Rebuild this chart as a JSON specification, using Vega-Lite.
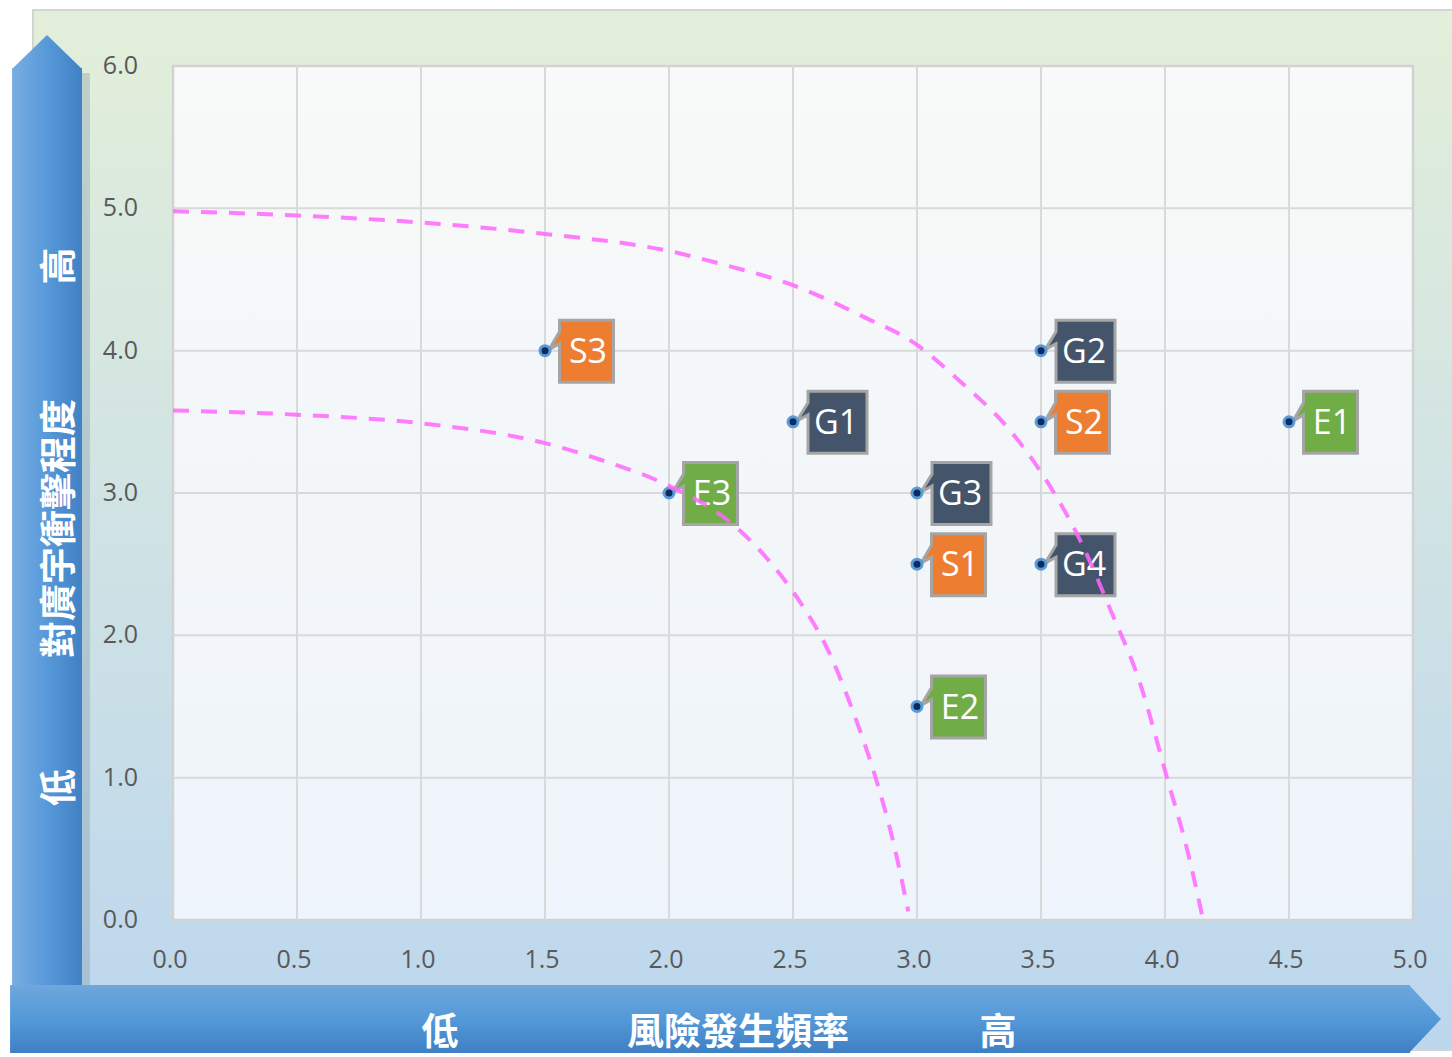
{
  "$schema": "https://vega.github.io/schema/vega-lite/v6.json",
  "width": 1240,
  "height": 854,
  "autosize": {"type": "none"},
  "padding": {"left": 173, "top": 66, "right": 39, "bottom": 137},
  "background": "white",
  "config": {
    "view": {"stroke": null},
    "axis": {"disable": true}
  },
  "data": {"values": [{}]},
  "datasets": {
    "pts": [
      {"id": "S3", "grp": "S", "x": 1.5, "y": 4.0},
      {"id": "G1", "grp": "G", "x": 2.5, "y": 3.5},
      {"id": "E3", "grp": "E", "x": 2.0, "y": 3.0},
      {"id": "G2", "grp": "G", "x": 3.5, "y": 4.0},
      {"id": "S2", "grp": "S", "x": 3.5, "y": 3.5},
      {"id": "E1", "grp": "E", "x": 4.5, "y": 3.5},
      {"id": "G3", "grp": "G", "x": 3.0, "y": 3.0},
      {"id": "S1", "grp": "S", "x": 3.0, "y": 2.5},
      {"id": "G4", "grp": "G", "x": 3.5, "y": 2.5},
      {"id": "E2", "grp": "E", "x": 3.0, "y": 1.5}
    ],
    "curves": [
      {"c": "A", "x": 0.0, "y": 4.98}, {"c": "A", "x": 0.5, "y": 4.95}, {"c": "A", "x": 1.0, "y": 4.9}, {"c": "A", "x": 1.5, "y": 4.82},
      {"c": "A", "x": 2.0, "y": 4.7}, {"c": "A", "x": 2.23, "y": 4.6}, {"c": "A", "x": 2.5, "y": 4.46}, {"c": "A", "x": 2.77, "y": 4.25},
      {"c": "A", "x": 3.0, "y": 4.04}, {"c": "A", "x": 3.17, "y": 3.79}, {"c": "A", "x": 3.375, "y": 3.44}, {"c": "A", "x": 3.51, "y": 3.12},
      {"c": "A", "x": 3.657, "y": 2.67}, {"c": "A", "x": 3.78, "y": 2.18}, {"c": "A", "x": 3.9, "y": 1.66}, {"c": "A", "x": 4.008, "y": 1.0},
      {"c": "A", "x": 4.09, "y": 0.49}, {"c": "A", "x": 4.15, "y": 0.03},
      {"c": "B", "x": 0.0, "y": 3.58}, {"c": "B", "x": 0.5, "y": 3.55}, {"c": "B", "x": 1.0, "y": 3.49}, {"c": "B", "x": 1.5, "y": 3.35},
      {"c": "B", "x": 1.73, "y": 3.23}, {"c": "B", "x": 2.0, "y": 3.05}, {"c": "B", "x": 2.25, "y": 2.79}, {"c": "B", "x": 2.41, "y": 2.51},
      {"c": "B", "x": 2.53, "y": 2.23}, {"c": "B", "x": 2.64, "y": 1.9}, {"c": "B", "x": 2.74, "y": 1.475}, {"c": "B", "x": 2.84, "y": 0.96},
      {"c": "B", "x": 2.9, "y": 0.58}, {"c": "B", "x": 2.965, "y": 0.06}
    ],
    "gridx": [{"v": 0.5}, {"v": 1.0}, {"v": 1.5}, {"v": 2.0}, {"v": 2.5}, {"v": 3.0}, {"v": 3.5}, {"v": 4.0}, {"v": 4.5}],
    "gridy": [{"v": 1.0}, {"v": 2.0}, {"v": 3.0}, {"v": 4.0}, {"v": 5.0}],
    "xticks": [{"v": 0}, {"v": 0.5}, {"v": 1.0}, {"v": 1.5}, {"v": 2.0}, {"v": 2.5}, {"v": 3.0}, {"v": 3.5}, {"v": 4.0}, {"v": 4.5}, {"v": 5.0}],
    "yticks": [{"v": 0}, {"v": 1.0}, {"v": 2.0}, {"v": 3.0}, {"v": 4.0}, {"v": 5.0}, {"v": 6.0}]
  },
  "layer": [
    {
      "mark": {"type": "rect", "stroke": "#d4d4d4", "strokeWidth": 2,
        "fill": {"gradient": "linear", "x1": 0, "y1": 0, "x2": 0, "y2": 1, "stops": [{"offset": 0, "color": "#e3efda"}, {"offset": 1, "color": "#bcd6ee"}]}},
      "encoding": {
        "x": {"datum": -0.5645, "type": "quantitative", "title": null, "scale": {"domain": [0, 5], "nice": false}},
        "x2": {"datum": 5.2},
        "y": {"datum": 6.394, "type": "quantitative", "title": null, "scale": {"domain": [0, 6], "nice": false}},
        "y2": {"datum": -0.913}
      }
    },
    {
      "mark": {"type": "rect", "fill": "#7f98a8", "opacity": 0.35},
      "encoding": {
        "x": {"datum": -0.367, "type": "quantitative", "title": null, "scale": {"domain": [0, 5], "nice": false}},
        "x2": {"datum": -0.335},
        "y": {"datum": 5.95, "type": "quantitative", "title": null, "scale": {"domain": [0, 6], "nice": false}},
        "y2": {"datum": -0.46}
      }
    },
    {
      "mark": {"type": "rect",
        "fill": {"gradient": "linear", "x1": 0, "y1": 0, "x2": 1, "y2": 0, "stops": [{"offset": 0, "color": "#7aaee0"}, {"offset": 0.45, "color": "#5a9bdb"}, {"offset": 1, "color": "#4080c4"}]}},
      "encoding": {
        "x": {"datum": -0.649, "type": "quantitative", "title": null, "scale": {"domain": [0, 5], "nice": false}},
        "x2": {"datum": -0.367},
        "y": {"datum": 5.986, "type": "quantitative", "title": null, "scale": {"domain": [0, 6], "nice": false}},
        "y2": {"datum": -0.5}
      }
    },
    {
      "mark": {"type": "point", "filled": true, "opacity": 1, "size": 4900, "shape": "M-1,0.03 L0,-0.94 L1,0.03 Z",
        "fill": {"gradient": "linear", "x1": 0, "y1": 0, "x2": 1, "y2": 0, "stops": [{"offset": 0, "color": "#7aaee0"}, {"offset": 0.45, "color": "#5a9bdb"}, {"offset": 1, "color": "#4080c4"}]}},
      "encoding": {
        "x": {"datum": -0.508, "type": "quantitative", "title": null, "scale": {"domain": [0, 5], "nice": false}},
        "y": {"datum": 5.986, "type": "quantitative", "title": null, "scale": {"domain": [0, 6], "nice": false}}
      }
    },
    {
      "mark": {"type": "rect",
        "fill": {"gradient": "linear", "x1": 0, "y1": 0, "x2": 0, "y2": 1, "stops": [{"offset": 0, "color": "#6ea7dc"}, {"offset": 0.5, "color": "#5499d8"}, {"offset": 1, "color": "#3f7fc4"}]}},
      "encoding": {
        "x": {"datum": -0.657, "type": "quantitative", "title": null, "scale": {"domain": [0, 5], "nice": false}},
        "x2": {"datum": 4.988},
        "y": {"datum": -0.457, "type": "quantitative", "title": null, "scale": {"domain": [0, 6], "nice": false}},
        "y2": {"datum": -0.934}
      }
    },
    {
      "mark": {"type": "point", "filled": true, "opacity": 1, "size": 4624, "shape": "M-0.03,-1 L0.91,0 L-0.03,1 Z",
        "fill": {"gradient": "linear", "x1": 0, "y1": 0, "x2": 0, "y2": 1, "stops": [{"offset": 0, "color": "#6ea7dc"}, {"offset": 0.5, "color": "#5499d8"}, {"offset": 1, "color": "#3f7fc4"}]}},
      "encoding": {
        "x": {"datum": 4.988, "type": "quantitative", "title": null, "scale": {"domain": [0, 5], "nice": false}},
        "y": {"datum": -0.696, "type": "quantitative", "title": null, "scale": {"domain": [0, 6], "nice": false}}
      }
    },
    {
      "mark": {"type": "text", "font": "Noto Sans CJK TC", "fontWeight": "bold", "fontSize": 37, "color": "white", "angle": 270, "align": "center", "baseline": "middle"},
      "encoding": {
        "x": {"datum": -0.45, "type": "quantitative", "title": null, "scale": {"domain": [0, 5], "nice": false}},
        "y": {"datum": 4.595, "type": "quantitative", "title": null, "scale": {"domain": [0, 6], "nice": false}},
        "text": {"value": "高"}
      }
    },
    {
      "mark": {"type": "text", "font": "Noto Sans CJK TC", "fontWeight": "bold", "fontSize": 37, "color": "white", "angle": 270, "align": "center", "baseline": "middle"},
      "encoding": {
        "x": {"datum": -0.45, "type": "quantitative", "title": null, "scale": {"domain": [0, 5], "nice": false}},
        "y": {"datum": 2.751, "type": "quantitative", "title": null, "scale": {"domain": [0, 6], "nice": false}},
        "text": {"value": "對廣宇衝擊程度"}
      }
    },
    {
      "mark": {"type": "text", "font": "Noto Sans CJK TC", "fontWeight": "bold", "fontSize": 37, "color": "white", "angle": 270, "align": "center", "baseline": "middle"},
      "encoding": {
        "x": {"datum": -0.45, "type": "quantitative", "title": null, "scale": {"domain": [0, 5], "nice": false}},
        "y": {"datum": 0.931, "type": "quantitative", "title": null, "scale": {"domain": [0, 6], "nice": false}},
        "text": {"value": "低"}
      }
    },
    {
      "mark": {"type": "text", "font": "Noto Sans CJK TC", "fontWeight": "bold", "fontSize": 37, "color": "white", "align": "center", "baseline": "middle"},
      "encoding": {
        "x": {"datum": 1.077, "type": "quantitative", "title": null, "scale": {"domain": [0, 5], "nice": false}},
        "y": {"datum": -0.801, "type": "quantitative", "title": null, "scale": {"domain": [0, 6], "nice": false}},
        "text": {"value": "低"}
      }
    },
    {
      "mark": {"type": "text", "font": "Noto Sans CJK TC", "fontWeight": "bold", "fontSize": 37, "color": "white", "align": "center", "baseline": "middle"},
      "encoding": {
        "x": {"datum": 2.278, "type": "quantitative", "title": null, "scale": {"domain": [0, 5], "nice": false}},
        "y": {"datum": -0.801, "type": "quantitative", "title": null, "scale": {"domain": [0, 6], "nice": false}},
        "text": {"value": "風險發生頻率"}
      }
    },
    {
      "mark": {"type": "text", "font": "Noto Sans CJK TC", "fontWeight": "bold", "fontSize": 37, "color": "white", "align": "center", "baseline": "middle"},
      "encoding": {
        "x": {"datum": 3.327, "type": "quantitative", "title": null, "scale": {"domain": [0, 5], "nice": false}},
        "y": {"datum": -0.801, "type": "quantitative", "title": null, "scale": {"domain": [0, 6], "nice": false}},
        "text": {"value": "高"}
      }
    },
    {
      "data": {"name": "xticks"},
      "mark": {"type": "text", "font": "Open Sans", "fontSize": 25, "color": "#595959", "align": "center", "baseline": "middle", "dy": 40, "dx": -3},
      "encoding": {
        "x": {"field": "v", "type": "quantitative", "title": null, "scale": {"domain": [0, 5], "nice": false}},
        "y": {"datum": 0, "type": "quantitative", "title": null, "scale": {"domain": [0, 6], "nice": false}},
        "text": {"field": "v", "type": "quantitative", "format": ".1f"}
      }
    },
    {
      "data": {"name": "yticks"},
      "mark": {"type": "text", "font": "Open Sans", "fontSize": 25, "color": "#595959", "align": "right", "baseline": "middle", "dx": -35},
      "encoding": {
        "x": {"datum": 0, "type": "quantitative", "title": null, "scale": {"domain": [0, 5], "nice": false}},
        "y": {"field": "v", "type": "quantitative", "title": null, "scale": {"domain": [0, 6], "nice": false}},
        "text": {"field": "v", "type": "quantitative", "format": ".1f"}
      }
    },
    {
      "mark": {"type": "rect", "stroke": "#d2d2d2", "strokeWidth": 2.5,
        "fill": {"gradient": "linear", "x1": 0, "y1": 0, "x2": 0, "y2": 1, "stops": [{"offset": 0, "color": "#f8f9f8"}, {"offset": 1, "color": "#eef4fb"}]}},
      "encoding": {
        "x": {"datum": 0, "type": "quantitative", "title": null, "scale": {"domain": [0, 5], "nice": false}},
        "x2": {"datum": 5},
        "y": {"datum": 6, "type": "quantitative", "title": null, "scale": {"domain": [0, 6], "nice": false}},
        "y2": {"datum": 0}
      }
    },
    {
      "data": {"name": "gridx"},
      "mark": {"type": "rule", "color": "#d9d9d9", "strokeWidth": 2},
      "encoding": {
        "x": {"field": "v", "type": "quantitative", "title": null, "scale": {"domain": [0, 5], "nice": false}}
      }
    },
    {
      "data": {"name": "gridy"},
      "mark": {"type": "rule", "color": "#d9d9d9", "strokeWidth": 2},
      "encoding": {
        "y": {"field": "v", "type": "quantitative", "title": null, "scale": {"domain": [0, 6], "nice": false}}
      }
    },
    {
      "data": {"name": "pts"},
      "mark": {"type": "point", "filled": true, "opacity": 1, "size": 40000, "stroke": "#a5a5a5", "strokeWidth": 3, "strokeJoin": "miter"},
      "encoding": {
        "x": {"field": "x", "type": "quantitative", "title": null, "scale": {"domain": [0, 5], "nice": false}},
        "y": {"field": "y", "type": "quantitative", "title": null, "scale": {"domain": [0, 6], "nice": false}},
        "color": {"field": "grp", "type": "nominal", "scale": {"domain": ["S", "G", "E"], "range": ["#ed7d31", "#44546a", "#70ad47"]}, "legend": null},
        "shape": {"field": "grp", "type": "nominal", "scale": {"domain": ["S", "G", "E"], "range": [
          "M0.145,-0.305 L0.685,-0.305 L0.685,0.315 L0.145,0.315 L0.145,-0.07 L0.04,-0.01 L0.145,-0.19 Z",
          "M0.15,-0.305 L0.74,-0.305 L0.74,0.315 L0.15,0.315 L0.15,-0.07 L0.04,-0.01 L0.15,-0.19 Z",
          "M0.145,-0.305 L0.685,-0.305 L0.685,0.315 L0.145,0.315 L0.145,-0.07 L0.04,-0.01 L0.145,-0.19 Z"]}, "legend": null}
      }
    },
    {
      "data": {"name": "pts"},
      "mark": {"type": "circle", "size": 100, "fill": "#0c2b5e", "stroke": "#5b9bd5", "strokeWidth": 3, "opacity": 1},
      "encoding": {
        "x": {"field": "x", "type": "quantitative", "title": null, "scale": {"domain": [0, 5], "nice": false}},
        "y": {"field": "y", "type": "quantitative", "title": null, "scale": {"domain": [0, 6], "nice": false}}
      }
    },
    {
      "data": {"name": "pts"},
      "mark": {"type": "text", "font": "Open Sans", "fontSize": 34, "color": "white", "align": "center", "baseline": "middle", "dx": 43, "dy": 2},
      "encoding": {
        "x": {"field": "x", "type": "quantitative", "title": null, "scale": {"domain": [0, 5], "nice": false}},
        "y": {"field": "y", "type": "quantitative", "title": null, "scale": {"domain": [0, 6], "nice": false}},
        "text": {"field": "id"}
      }
    },
    {
      "data": {"name": "curves"},
      "mark": {"type": "line", "color": "#ff66ff", "strokeWidth": 4, "strokeDash": [16, 12], "opacity": 0.85, "interpolate": "monotone"},
      "encoding": {
        "x": {"field": "x", "type": "quantitative", "title": null, "scale": {"domain": [0, 5], "nice": false}},
        "y": {"field": "y", "type": "quantitative", "title": null, "scale": {"domain": [0, 6], "nice": false}},
        "detail": {"field": "c"}
      }
    }
  ]
}
